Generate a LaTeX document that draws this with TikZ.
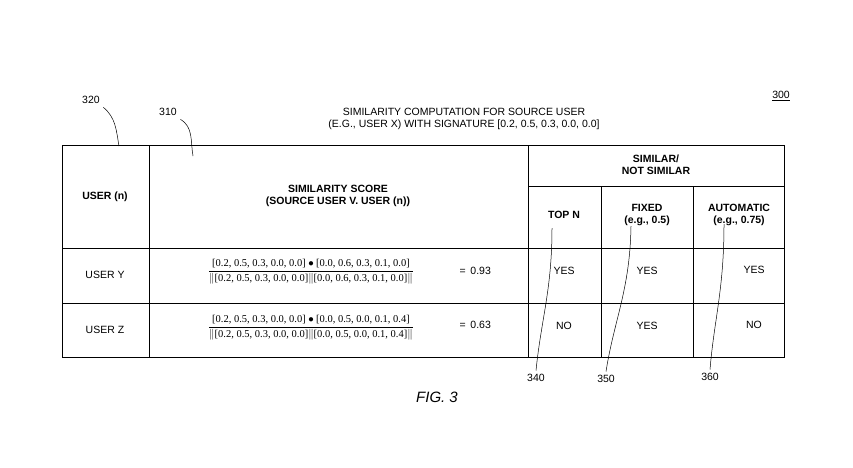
\documentclass[tikz,border=0pt]{standalone}
\usepackage{amsmath}
\usepackage{fontspec}
\setmainfont{Liberation Sans}
\newfontfamily\fracfont{Liberation Serif}
\usetikzlibrary{calc}

\tikzset{
    cell/.style={font=\fontsize{10.5pt}{12pt}\selectfont, align=center},
    head/.style={cell, font=\fontsize{10.5pt}{12pt}\selectfont\bfseries},
    lead/.style={line width=0.5pt},
    ref/.style={font=\fontsize{10.5pt}{12pt}\selectfont},
}
\newcommand{\vect}[1]{\text{\fracfont[#1]}}

\begin{document}
\begin{tikzpicture}[x=1pt, y=-1pt, line width=0.6pt]
    \useasboundingbox (0, 0) rectangle (853, 467);
    \coordinate (tl) at (62, 145);
    \coordinate (br) at (784, 357);

    % table frame and rules
    \draw (tl) rectangle (br);
    \draw (62, 248) -- (784, 248);
    \draw (62, 303) -- (784, 303);
    \draw (149, 145) -- (149, 357);
    \draw (528, 145) -- (528, 357);
    \draw (601, 186) -- (601, 357);
    \draw (693, 186) -- (693, 357);
    \draw (528, 186) -- (784, 186);

    % headings
    \node[cell] (title) at (464, 119) {SIMILARITY COMPUTATION FOR SOURCE USER\\(E.G., USER X) WITH SIGNATURE [0.2, 0.5, 0.3, 0.0, 0.0]};
    \node[head] (user) at (105, 197) {USER (n)};
    \node[head] (score) at (338, 196) {SIMILARITY SCORE\\(SOURCE USER V. USER (n))};
    \node[head] (simhead) at (656, 165) {SIMILAR/\\NOT SIMILAR};
    \node[head] (topn) at (564, 215) {TOP N};
    \node[head] (fixed) at (647, 215) {FIXED\\(e.g., 0.5)};
    \node[head] (auto) at (739, 215) {AUTOMATIC\\(e.g., 0.75)};

    % rows
    \node[cell] (usery) at (105, 275) {USER Y};
    \node[cell] (userz) at (105, 330) {USER Z};
    \node[cell] (fracy) at (311, 272)
        {$\displaystyle\frac{\vect{0.2, 0.5, 0.3, 0.0, 0.0}\bullet\vect{0.0, 0.6, 0.3, 0.1, 0.0}}{\|\vect{0.2, 0.5, 0.3, 0.0, 0.0}\|\vect{0.0, 0.6, 0.3, 0.1, 0.0}\|}$};
    \node[cell] (fracz) at (311, 328)
        {$\displaystyle\frac{\vect{0.2, 0.5, 0.3, 0.0, 0.0}\bullet\vect{0.0, 0.5, 0.0, 0.1, 0.4}}{\|\vect{0.2, 0.5, 0.3, 0.0, 0.0}\|\vect{0.0, 0.5, 0.0, 0.1, 0.4}\|}$};
    \node[cell, anchor=west] (valy) at (456, 271) {=\, 0.93};
    \node[cell, anchor=west] (valz) at (456, 325) {=\, 0.63};
    \node[cell] (topny) at (564, 271) {YES};
    \node[cell] (fixedy) at (647, 271) {YES};
    \node[cell] (autoy) at (754, 270) {YES};
    \node[cell] (topnz) at (564, 326) {NO};
    \node[cell] (fixedz) at (647, 326) {YES};
    \node[cell] (autoz) at (754, 325) {NO};

    % reference numerals
    \node[ref] (n300) at (781, 96) {\underline{300}};
    \node[ref] (n320) at (91, 100) {320};
    \node[ref] (n310) at (168, 112) {310};
    \node[ref] (n340) at (536, 378) {340};
    \node[ref] (n350) at (606, 379) {350};
    \node[ref] (n360) at (710, 377) {360};
    \node[cell, font=\fontsize{15pt}{17pt}\selectfont\itshape] (fig) at (437, 397) {FIG. 3};

    \draw[lead] (n320.south east) to[out=-40, in=100] (119, 146);
    \draw[lead] (n310.south east) to[out=-30, in=100] (193, 156);
    \draw[lead] (n340.north) .. controls (541, 320) and (552, 290) .. (552, 228);
    \draw[lead] (n350.north) .. controls (614, 320) and (630, 290) .. (631, 226);
    \draw[lead] (n360.north) .. controls (714, 320) and (724, 290) .. (724, 224);
\end{tikzpicture}
\end{document}
